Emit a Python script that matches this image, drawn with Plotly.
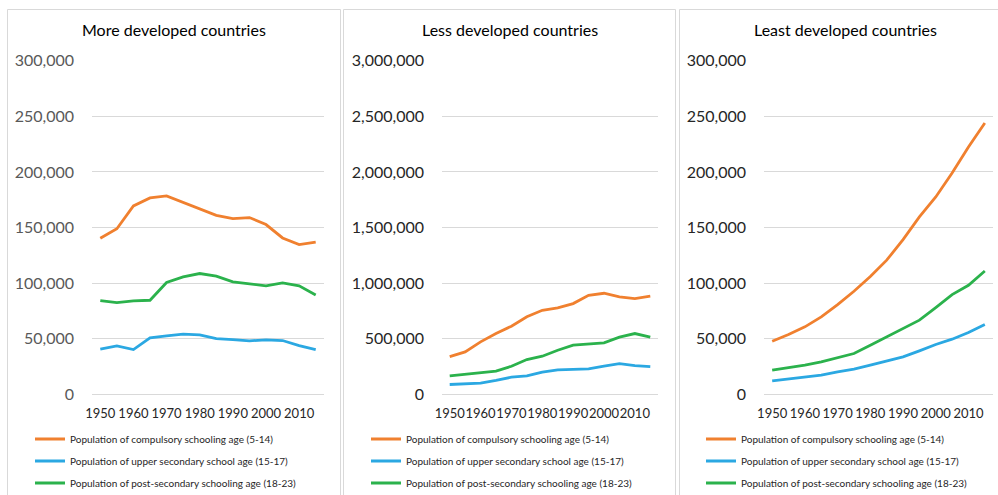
import plotly.graph_objects as go

W, H = 998, 495

years = [1950, 1955, 1960, 1965, 1970, 1975, 1980, 1985, 1990, 1995, 2000, 2005, 2010, 2015]
tick_years = [1950, 1960, 1970, 1980, 1990, 2000, 2010]

series_names = [
    "Population of compulsory schooling age (5-14)",
    "Population of upper secondary school age (15-17)",
    "Population of post-secondary schooling age (18-23)",
]
series_colors = ["#F0802F", "#2BA8E2", "#2BB24C"]

panel_titles = ["More developed countries", "Less developed countries", "Least developed countries"]

more_compulsory = [140400, 149000, 169500, 176600, 178400, 172700, 166500, 161000, 158000, 159000, 152700, 140700, 134700, 137000]
more_upper = [40700, 43700, 40400, 50900, 52700, 54200, 53600, 50300, 49400, 48200, 49100, 48500, 44000, 40400]
more_post = [84400, 82600, 84100, 84700, 100600, 105700, 108700, 106300, 101200, 99400, 97600, 100300, 97600, 89500]

less_compulsory = [341000, 383000, 473000, 548000, 614000, 698000, 757000, 778000, 817000, 892000, 910000, 877000, 862000, 883000]
less_upper = [90000, 96000, 102000, 126000, 156000, 168000, 201000, 222000, 228000, 230000, 254000, 278000, 260000, 251000]
less_post = [168000, 183000, 192000, 210000, 254000, 314000, 344000, 398000, 443000, 452000, 464000, 515000, 548000, 515000]

least_compulsory = [47900, 53900, 60800, 69800, 80800, 92800, 106000, 120700, 139200, 159600, 177500, 199000, 222500, 244000]
least_upper = [12300, 13800, 15300, 17400, 20400, 22800, 26300, 29900, 33800, 39200, 44900, 49700, 55700, 62900]
least_post = [21900, 24000, 26300, 29300, 33200, 36800, 44300, 51800, 59300, 66800, 78100, 89800, 98200, 111000]

y_max = [300000, 3000000, 300000]
y_step = [50000, 500000, 50000]

panels = [
    [more_compulsory, more_upper, more_post],
    [less_compulsory, less_upper, less_post],
    [least_compulsory, least_upper, least_post],
]

# layout geometry in pixels
plot_x = [(92, 324), (442, 658), (764, 993)]
panel_box = [(7.5, 340.5), (343.5, 675.5), (679.5, 1010)]
title_cx = [174, 510, 845]
legend_x = [30, 366, 701]
ytick_colors = ["#595959", "#262626", "#262626"]
plot_top, plot_bottom = 60.5, 394.5

FONT = "Lato"

fig = go.Figure()
layout = dict(
    width=W, height=H,
    margin=dict(l=0, r=0, t=0, b=0, autoexpand=False),
    paper_bgcolor="white", plot_bgcolor="white",
    font=dict(family=FONT, color="#262626"),
    shapes=[], annotations=[],
)

def px(x):
    return x / W

def py(y):
    return 1 - y / H

for p in range(3):
    xa = "xaxis" if p == 0 else f"xaxis{p+1}"
    ya = "yaxis" if p == 0 else f"yaxis{p+1}"
    xr = "x" if p == 0 else f"x{p+1}"
    yr = "y" if p == 0 else f"y{p+1}"
    lg = "legend" if p == 0 else f"legend{p+1}"
    for s in range(3):
        fig.add_trace(go.Scatter(
            x=years, y=panels[p][s], mode="lines", name=series_names[s],
            line=dict(color=series_colors[s], width=2.8),
            xaxis=xr, yaxis=yr, legend=lg, legendgroup=f"{p}_{s}",
        ))
    layout[xa] = dict(
        domain=[px(plot_x[p][0]), px(plot_x[p][1])],
        anchor=yr, range=[1947.5, 2017.5],
        tickvals=tick_years, ticktext=[str(t) for t in tick_years],
        showgrid=False, zeroline=False, showline=False, ticks="",
        tickangle=0, automargin=False,
        tickfont=dict(size=13, color="#262626", family=FONT),
        ticklabelstandoff=9, fixedrange=True,
    )
    layout[ya] = dict(
        domain=[py(plot_bottom), py(plot_top)],
        anchor=xr, range=[0, y_max[p] * 1.0005],
        dtick=y_step[p], tick0=0, tickformat=",d",
        showgrid=True, gridcolor="#D9D9D9", gridwidth=1,
        zeroline=True, zerolinecolor="#D9D9D9", zerolinewidth=1,
        showline=False, ticks="", automargin=False,
        tickfont=dict(size=16, color=ytick_colors[p], family=FONT),
        ticklabelstandoff=17, fixedrange=True,
    )
    layout[lg] = dict(
        x=px(legend_x[p]), y=py(461), xanchor="left", yanchor="middle",
        font=dict(size=10, color="#262626", family=FONT),
        bgcolor="rgba(0,0,0,0)", borderwidth=0,
        tracegroupgap=3, itemwidth=30,
    )
    layout["shapes"].append(dict(
        type="rect", xref="paper", yref="paper",
        x0=px(panel_box[p][0]), x1=px(panel_box[p][1]),
        y0=py(H + 10), y1=py(9.5),
        line=dict(color="#D9D9D9", width=1), fillcolor="rgba(0,0,0,0)", layer="below",
    ))
    layout["annotations"].append(dict(
        text=panel_titles[p], xref="paper", yref="paper",
        x=px(title_cx[p]), y=py(30), xanchor="center", yanchor="middle",
        showarrow=False, font=dict(size=16, color="#000000", family=FONT),
    ))

fig.update_layout(**layout)
fig.write_html(
    "out.html",
    config={"displayModeBar": False},
    post_script="document.body.style.margin='0';document.body.style.overflow='hidden';",
)
